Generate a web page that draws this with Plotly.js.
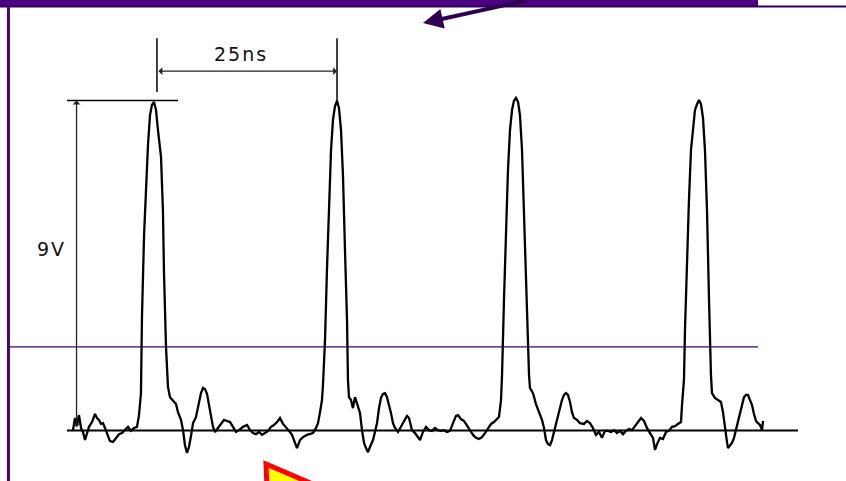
<!DOCTYPE html>
<html>
<head>
<meta charset="utf-8">
<script src="https://cdn.plot.ly/plotly-3.0.1.min.js"></script>
<style>
  html, body { margin: 0; padding: 0; background: #ffffff; overflow: hidden; }
  #plot { width: 846px; height: 481px; }
  #plot .annotation-text { letter-spacing: 2px; }
</style>
</head>
<body>
<div id="plot"></div>
<script>
// Oscilloscope trace: time in ns, amplitude in V
const time_ns = [
  -11.19,-10.91,-10.64,-10.36,-10.08,-9.81,-9.53,-9.25,-8.98,-8.56,
  -8.15,-7.87,-7.60,-7.32,-7.04,-6.77,-6.35,-6.08,-5.66,-5.25,
  -4.83,-4.42,-4.01,-3.59,-3.18,-2.76,-2.35,-2.07,-1.80,-1.66,
  -1.38,-1.10,-0.83,-0.55,-0.28,0.00,0.28,0.55,0.97,1.24,
  1.38,1.66,1.93,2.21,2.62,3.04,3.31,3.73,4.01,4.28,
  4.56,4.83,5.11,5.39,5.80,6.22,6.49,6.77,7.04,7.32,
  7.60,7.87,8.15,8.43,8.84,9.25,9.67,10.08,10.50,10.91,
  11.33,11.74,12.29,12.85,13.26,13.67,14.09,14.50,14.92,15.33,
  15.75,16.16,16.57,16.99,17.40,17.82,18.23,18.65,19.06,19.47,
  19.75,20.17,20.58,21.13,21.55,21.96,22.38,22.65,22.93,23.20,
  23.34,23.62,23.89,24.17,24.45,24.72,25.00,25.28,25.55,25.83,
  26.10,26.38,26.66,26.79,26.93,27.21,27.48,27.76,28.04,28.31,
  28.45,28.73,29.01,29.28,29.56,29.83,30.25,30.52,30.80,31.08,
  31.35,31.63,31.91,32.18,32.46,32.73,33.01,33.29,33.70,34.12,
  34.53,34.94,35.22,35.63,36.05,36.46,36.74,37.15,37.57,37.98,
  38.40,38.81,39.23,39.64,40.05,40.47,40.88,41.30,41.71,41.99,
  42.40,42.82,43.23,43.64,44.06,44.47,44.89,45.30,45.72,46.13,
  46.55,46.96,47.37,47.65,47.93,48.07,48.34,48.62,48.89,49.17,
  49.45,49.72,50.00,50.28,50.55,50.83,51.10,51.38,51.66,51.80,
  51.93,52.35,52.76,53.18,53.59,53.87,54.14,54.42,54.70,54.97,
  55.25,55.52,55.80,56.08,56.35,56.63,56.91,57.18,57.46,57.73,
  58.01,58.43,58.84,59.39,59.80,60.22,60.63,61.05,61.46,61.88,
  62.29,62.71,63.12,63.54,63.95,64.37,64.78,65.19,65.61,66.02,
  66.44,66.85,67.27,67.68,68.09,68.51,68.92,69.20,69.48,69.89,
  70.30,70.72,71.13,71.55,71.96,72.37,72.79,72.93,73.20,73.34,
  73.62,73.89,74.17,74.45,74.72,75.00,75.28,75.55,75.83,76.10,
  76.38,76.66,76.79,76.93,77.07,77.48,77.90,78.31,78.59,78.87,
  79.14,79.28,79.56,79.83,80.11,80.39,80.66,80.94,81.21,81.49,
  81.77,82.04,82.32,82.59,82.87,83.15,83.42,83.70,83.98,84.12
];
const volts = [
  0.01,0.34,0.15,0.42,0.07,-0.04,-0.26,-0.04,0.10,0.23,
  0.45,0.34,0.29,0.18,0.20,0.07,-0.15,-0.29,-0.31,-0.20,
  -0.10,-0.07,0.01,0.10,-0.01,0.07,0.10,0.42,1.02,3.10,
  5.28,6.64,7.79,8.60,8.88,8.96,8.74,8.19,7.46,5.96,
  4.30,2.28,1.19,0.91,0.83,0.72,0.50,0.29,0.01,-0.40,
  -0.61,-0.45,-0.15,0.20,0.37,0.75,1.02,1.16,1.13,1.00,
  0.70,0.40,0.10,-0.04,0.07,0.18,0.29,0.26,0.23,0.10,
  -0.04,0.01,0.10,0.15,0.01,-0.07,-0.10,-0.04,-0.12,-0.07,
  -0.01,0.10,0.15,0.23,0.34,0.18,0.10,-0.01,-0.12,-0.31,
  -0.48,-0.26,-0.18,-0.12,-0.10,-0.07,0.07,0.20,0.50,0.83,
  1.24,2.47,4.38,6.29,7.65,8.47,8.85,8.99,8.79,8.19,
  6.97,4.92,3.01,1.38,0.91,0.83,0.61,0.91,0.72,0.56,
  0.48,0.01,-0.34,-0.48,-0.59,-0.45,-0.26,-0.04,0.20,0.61,
  0.89,1.00,1.02,0.91,0.72,0.48,0.20,0.07,-0.04,0.10,
  0.26,0.40,0.34,0.01,-0.07,-0.18,-0.26,-0.04,0.10,0.01,
  -0.01,0.07,0.01,-0.01,0.01,-0.04,-0.01,0.20,0.40,0.42,
  0.31,0.26,0.15,0.01,-0.12,-0.20,-0.23,-0.18,-0.07,0.07,
  0.18,0.23,0.31,0.37,0.83,1.51,3.56,5.47,7.10,8.19,
  8.74,8.99,9.07,8.96,8.60,7.65,6.01,3.83,2.20,1.51,
  1.16,1.02,0.72,0.50,0.29,0.07,-0.26,-0.37,-0.40,-0.26,
  -0.04,0.23,0.45,0.61,0.83,0.97,1.02,0.97,0.78,0.50,
  0.34,0.29,0.20,0.18,0.26,0.20,0.07,-0.12,-0.04,-0.20,
  -0.01,-0.01,-0.04,0.01,-0.07,-0.01,-0.10,-0.01,0.04,0.01,
  0.12,0.26,0.34,0.26,0.07,-0.07,-0.20,-0.53,-0.37,-0.20,
  -0.23,-0.04,-0.01,0.10,0.12,0.18,0.23,0.70,1.38,2.74,
  4.65,6.29,7.65,8.33,8.74,8.90,9.01,8.90,8.52,7.65,
  6.01,3.56,2.20,1.51,1.02,0.89,0.83,0.78,0.50,0.01,
  -0.31,-0.48,-0.42,-0.34,-0.20,0.01,0.23,0.48,0.70,0.91,
  0.97,0.97,0.83,0.70,0.45,0.26,0.20,0.15,0.01,0.26
];

// Annotation values
const periodLabel = "25ns";
const amplitudeLabel = "9V";
const pulseStart = 0.41;     // ns, first dimension line
const pulseNext = 25.28;     // ns, second dimension line
const amplitudeV = 9.0;      // V
const baselineV = 0;
const refLineV = 2.28;       // V, thin horizontal reference line
const baselineFrom = -12.02, baselineTo = 88.95;

const trace = {
  x: time_ns, y: volts, type: 'scatter', mode: 'lines',
  line: { color: '#000000', width: 2.3, shape: 'linear' },
  hoverinfo: 'skip', showlegend: false
};

const purple = '#4b0082';
const layout = {
  width: 846, height: 481,
  margin: { l: 0, r: 0, t: 0, b: 0, pad: 0 },
  paper_bgcolor: '#ffffff', plot_bgcolor: '#ffffff',
  showlegend: false,
  xaxis: { range: [-21.27, 95.58], visible: false, fixedrange: true },
  yaxis: { range: [-1.377, 11.74], visible: false, fixedrange: true },
  shapes: [
    // top purple bar
    { type: 'rect', xref: 'paper', yref: 'paper', x0: 0, x1: 0.896, y0: 0.9854, y1: 1.02,
      fillcolor: purple, line: { width: 0 } },
    { type: 'line', xref: 'paper', yref: 'paper', x0: 0, x1: 1, y0: 0.9865, y1: 0.9865,
      line: { color: '#33005c', width: 2 } },
    // left border
    { type: 'line', xref: 'paper', yref: 'paper', x0: 0.0100, x1: 0.0100, y0: -0.02, y1: 1.02,
      line: { color: purple, width: 3 } },
    // thin reference line
    { type: 'line', xref: 'paper', yref: 'y', x0: 0.0095, x1: 0.896, y0: refLineV, y1: refLineV,
      line: { color: '#3a0068', width: 1.2 } },
    // baseline
    { type: 'line', xref: 'x', yref: 'y', x0: baselineFrom, x1: baselineTo, y0: baselineV, y1: baselineV,
      line: { color: '#000000', width: 2 } },
    // amplitude top line
    { type: 'line', xref: 'x', yref: 'y', x0: baselineFrom, x1: 3.31, y0: amplitudeV, y1: amplitudeV,
      line: { color: '#000000', width: 1.5 } },
    // period dimension verticals
    { type: 'line', xref: 'x', yref: 'y', x0: pulseStart, x1: pulseStart, y0: 9.23, y1: 10.70,
      line: { color: '#000000', width: 1.5 } },
    { type: 'line', xref: 'x', yref: 'y', x0: pulseNext, x1: pulseNext, y0: 8.90, y1: 10.70,
      line: { color: '#000000', width: 1.5 } },
    // red / yellow pointer at the bottom
    { type: 'path', xref: 'paper', yref: 'paper',
      path: 'M0.3144,0.0353 L0.4492,-0.0665 L0.3168,-0.0665 Z',
      fillcolor: '#ffff00', line: { color: '#ff0000', width: 5 } }
  ],
  annotations: [
    { xref: 'x', yref: 'y', x: 12.0, y: 10.27, text: periodLabel, showarrow: false,
      font: { family: 'DejaVu Sans', size: 19, color: '#111111' } },
    { xref: 'x', yref: 'y', x: -14.2, y: 4.95, text: amplitudeLabel, showarrow: false,
      font: { family: 'DejaVu Sans', size: 19, color: '#111111' } },
    // 9V arrow
    { xref: 'x', yref: 'y', axref: 'x', ayref: 'y', x: -10.70, y: amplitudeV, ax: -10.70, ay: 0.05,
      text: '', showarrow: true, arrowside: 'end+start', arrowhead: 1, arrowsize: 1,
      arrowwidth: 1.3, arrowcolor: '#222222' },
    // 25ns arrow
    { xref: 'x', yref: 'y', axref: 'x', ayref: 'y', x: pulseNext, y: 9.8, ax: pulseStart, ay: 9.8,
      text: '', showarrow: true, arrowside: 'end+start', arrowhead: 1, arrowsize: 1,
      arrowwidth: 1.3, arrowcolor: '#222222' },
    // top dark arrow
    { xref: 'paper', yref: 'paper', x: 0.5, y: 0.952, ax: 105, ay: -28,
      text: '', showarrow: true, arrowhead: 2, arrowsize: 1, arrowwidth: 4,
      arrowcolor: '#2d0050' }
  ]
};

Plotly.newPlot('plot', [trace], layout, { staticPlot: true, displayModeBar: false });
</script>
</body>
</html>
